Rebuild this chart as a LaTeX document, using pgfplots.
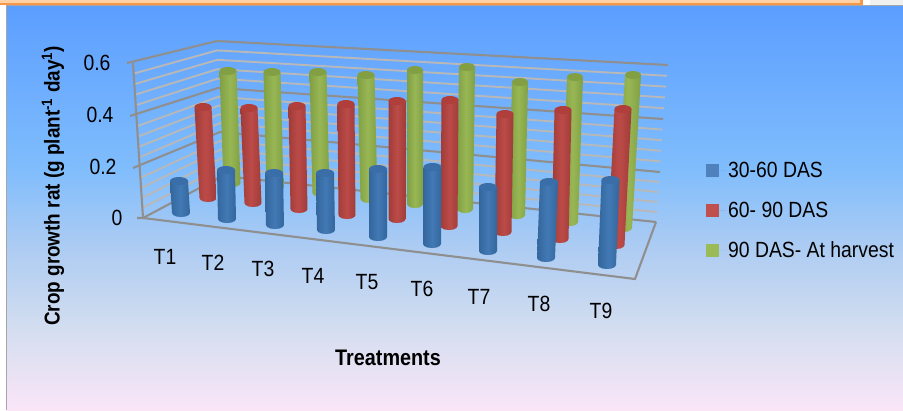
\documentclass[border=0pt]{standalone}
\usepackage{pgfplots}
\pgfplotsset{compat=1.18}
\usepackage{fontspec}
\setmainfont[FakeStretch=0.88]{Liberation Sans}

\definecolor{legblue}{HTML}{4F81BD}
\definecolor{legred}{HTML}{C0504D}
\definecolor{leggreen}{HTML}{9BBB59}
\definecolor{blueE}{HTML}{33669C}
\definecolor{blueM}{HTML}{4279B5}
\definecolor{blueC}{HTML}{3A6EA8}
\definecolor{redE}{HTML}{A03C39}
\definecolor{redM}{HTML}{BC4B48}
\definecolor{redC}{HTML}{B03F3C}
\definecolor{greenE}{HTML}{80A044}
\definecolor{greenM}{HTML}{98B654}
\definecolor{greenC}{HTML}{82A043}
\definecolor{majgrid}{HTML}{8F8F8F}
\definecolor{mingrid}{HTML}{B8B8B8}

\pgfdeclareverticalshading{daybreak}{100bp}{
  rgb(0bp)=(0.98,0.90,0.97);
  rgb(25bp)=(0.98,0.90,0.97);
  rgb(35bp)=(0.83,0.87,0.94);
  rgb(45bp)=(0.68,0.80,0.95);
  rgb(55bp)=(0.50,0.74,0.99);
  rgb(75bp)=(0.36,0.62,1.00);
  rgb(100bp)=(0.36,0.62,1.00)}

% flat cap of a cylinder, mark size is its half width
\pgfdeclareplotmark{cap}{%
  \pgfpathellipse{\pgfpointorigin}{\pgfqpoint{\pgfplotmarksize}{0pt}}{\pgfqpoint{0pt}{4pt}}%
  \pgfusepathqfill}

% \cyl{x top}{y top}{x bottom}{y bottom}{half width}{series}
\newcommand{\cyl}[6]{%
  \pgfmathsetmacro{\xtl}{#1-#5}\pgfmathsetmacro{\xtr}{#1+#5}%
  \pgfmathsetmacro{\xba}{#3-#5}\pgfmathsetmacro{\xbb}{#3-0.87*#5}\pgfmathsetmacro{\xbc}{#3-0.5*#5}%
  \pgfmathsetmacro{\xbd}{#3+0.5*#5}\pgfmathsetmacro{\xbe}{#3+0.87*#5}\pgfmathsetmacro{\xbf}{#3+#5}%
  \pgfmathsetmacro{\yba}{#4+2}\pgfmathsetmacro{\ybb}{#4+3.5}\pgfmathsetmacro{\ybc}{#4+4}%
  \addplot[forget plot, draw=none, left color=#6E, right color=#6E, middle color=#6M]
    coordinates {(\xtl,#2) (\xba,#4) (\xbb,\yba) (\xbc,\ybb) (#3,\ybc) (\xbd,\ybb) (\xbe,\yba) (\xbf,#4) (\xtr,#2)} -- cycle;
  \addplot[forget plot, only marks, mark=cap, mark size=#5, mark options={draw=none, fill=#6C}]
    coordinates {(#1,#2)};
}
\newcommand{\gridline}[6]{%
  \addplot[forget plot, color=mingrid, line width=1.9pt] coordinates {(#1,#2) (#3,#4) (#5,#6)};}
\newcommand{\majline}[6]{%
  \addplot[forget plot, color=majgrid, line width=2.1pt] coordinates {(#1,#2) (#3,#4) (#5,#6)};}

\begin{document}
\begin{tikzpicture}
\begin{axis}[
    scale only axis,
    width=903pt, height=410pt,
    xmin=0, xmax=903, ymin=0, ymax=410,
    y dir=reverse,
    hide axis,
    legend style={at={(axis cs:706,160)}, anchor=north west, draw=none, fill=none,
      inner sep=0pt, row sep=19pt, font=\fontsize{22}{23}\selectfont},
    legend cell align=left,
    legend image code/.code={\fill[#1, draw=none] (0pt,-6.5pt) rectangle (13pt,6.5pt);\path[draw=none] (0pt,0pt) -- (20pt,0pt);},
  ]
  % page, band at the top, gradient
  \path[fill=white] (axis cs:0,0) rectangle (axis cs:903,410);
  \path[fill=black!6] (axis cs:870,0) rectangle (axis cs:903,5);
  \path[fill=orange!35!white] (axis cs:0,0) rectangle (axis cs:860,3);
  \path[fill=gray!70] (axis cs:5.5,5) rectangle (axis cs:903,410);
  \path[shading=daybreak] (axis cs:7,6) rectangle (axis cs:903,410);
  \path[fill={rgb,255:red,247;green,150;blue,70}] (axis cs:0,3) rectangle (axis cs:863,5);
  \path[fill={rgb,255:red,247;green,150;blue,70}] (axis cs:860,0) rectangle (axis cs:863,5);

  % minor grid, walls
  \gridline{142.3}{208}{221.6}{167.2}{656.8}{212}
  \gridline{141.6}{198}{221.2}{158.4}{657.6}{202}
  \gridline{140.9}{188}{220.8}{149.6}{658.4}{192}
  \gridline{140.2}{178}{220.4}{140.8}{659.2}{182}
  \gridline{138.8}{157.6}{219.6}{123.2}{660.6}{161.4}
  \gridline{138.1}{147.2}{219.2}{114.4}{661.2}{150.8}
  \gridline{137.4}{136.8}{218.8}{105.6}{661.8}{140.2}
  \gridline{136.7}{126.4}{218.4}{96.8}{662.4}{129.6}
  \gridline{135.4}{105.4}{217.8}{78.6}{664}{108.2}
  \gridline{134.8}{94.8}{217.6}{69.2}{665}{97.4}
  \gridline{134.2}{84.2}{217.4}{59.8}{666}{86.6}
  \gridline{133.6}{73.6}{217.2}{50.4}{667}{75.8}
  % major grid
  \majline{143}{218}{222}{176}{656}{222}
  \majline{133}{168}{220}{132}{660}{172}
  \majline{130}{116}{218}{88}{663}{119}
  \majline{127}{63}{217}{41}{668}{65}
  \majline{133}{63}{143}{218}{137}{218}
  \majline{143}{218}{635}{279}{656}{222}

  % 90 DAS- At harvest
  \cyl{228}{71}{232}{183}{8.5}{green}
  \cyl{272}{72}{275}{188}{8.5}{green}
  \cyl{318}{72}{321}{193}{8.5}{green}
  \cyl{366}{75}{369}{199}{8.5}{green}
  \cyl{415}{70}{415}{204}{8}{green}
  \cyl{467}{67}{465}{209}{8}{green}
  \cyl{520}{82}{517}{215}{8}{green}
  \cyl{575}{77}{570}{222}{8}{green}
  \cyl{633}{75}{624}{228}{8}{green}
  % 60- 90 DAS
  \cyl{203}{107}{208}{198}{8.5}{red}
  \cyl{249}{108}{253}{203}{8.5}{red}
  \cyl{297}{106}{299}{209}{8.5}{red}
  \cyl{346}{104}{347}{215}{8.5}{red}
  \cyl{397}{101}{397}{219}{8.5}{red}
  \cyl{450}{100}{449}{226}{8.5}{red}
  \cyl{505}{114}{503}{232}{8.5}{red}
  \cyl{563}{110}{560}{239}{8.5}{red}
  \cyl{623}{109}{616}{245}{8.5}{red}
  % 30-60 DAS
  \cyl{179}{181}{181}{213}{9}{blue}
  \cyl{226}{170}{227}{219}{9}{blue}
  \cyl{274}{173}{275}{225}{9}{blue}
  \cyl{325}{173}{326}{230}{9}{blue}
  \cyl{378}{169}{378}{237}{9}{blue}
  \cyl{432.5}{167}{432}{244}{9}{blue}
  \cyl{488}{187}{488}{251}{9}{blue}
  \cyl{549}{182}{546}{258}{9}{blue}
  \cyl{610.5}{180}{607}{265}{9}{blue}

  \addlegendimage{fill=legblue}\addlegendentry{30-60 DAS}
  \addlegendimage{fill=legred}\addlegendentry{60- 90 DAS}
  \addlegendimage{fill=leggreen}\addlegendentry{90 DAS- At harvest}

  % value labels
  \tikzset{lab/.style={font=\fontsize{22}{23}\selectfont, inner sep=0pt}}
  \node[lab] at (axis cs:97,63) {0.6};
  \node[lab] at (axis cs:100,115) {0.4};
  \node[lab] at (axis cs:103,167) {0.2};
  \node[lab] at (axis cs:117,218) {0};
  % treatment labels
  \node[lab] at (axis cs:165,257) {T1};
  \node[lab] at (axis cs:213,263) {T2};
  \node[lab] at (axis cs:263,269) {T3};
  \node[lab] at (axis cs:313,276) {T4};
  \node[lab] at (axis cs:367,282) {T5};
  \node[lab] at (axis cs:422,289) {T6};
  \node[lab] at (axis cs:479,297) {T7};
  \node[lab] at (axis cs:539,304) {T8};
  \node[lab] at (axis cs:601,311) {T9};
  % axis titles
  \node[font=\fontsize{22.5}{24}\selectfont\bfseries, inner sep=0pt] at (axis cs:388,358) {Treatments};
  \node[font=\fontsize{21.5}{24}\selectfont\bfseries, inner sep=0pt, rotate=90] at (axis cs:53,186)
    {Crop growth rat (g plant\textsuperscript{-1} day\textsuperscript{1})};
\end{axis}
\end{tikzpicture}
\end{document}
